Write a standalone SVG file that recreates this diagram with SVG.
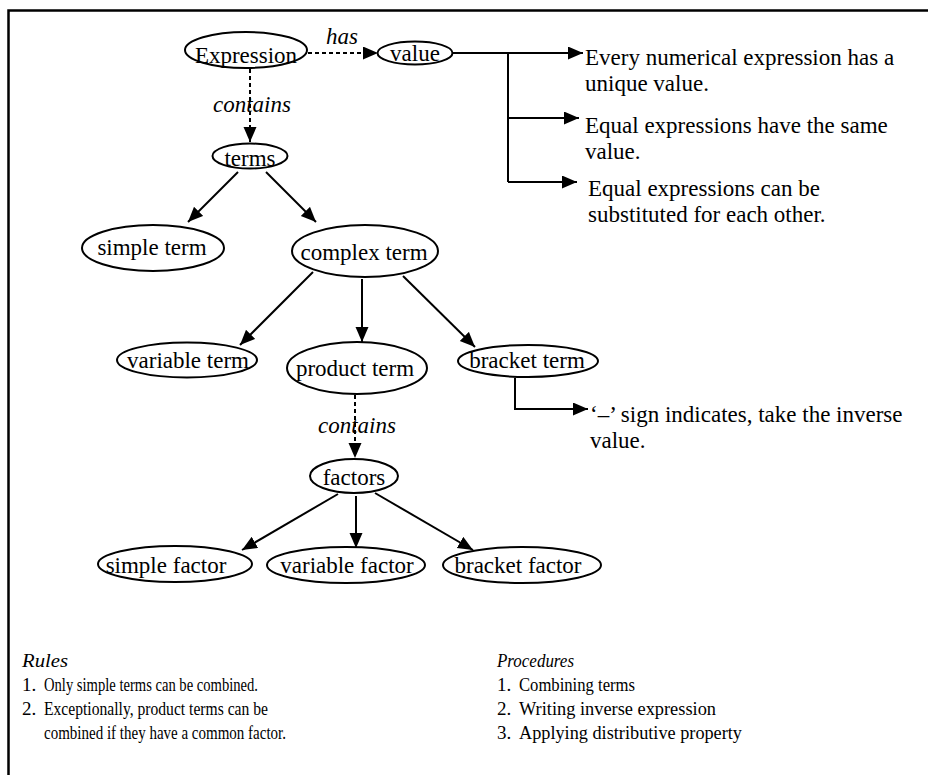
<svg xmlns="http://www.w3.org/2000/svg" width="928" height="775" viewBox="0 0 928 775">
<defs>
<marker id="ah" markerUnits="userSpaceOnUse" markerWidth="16" markerHeight="14" refX="15" refY="6.5" orient="auto">
<path d="M0,0 L15,6.5 L0,13 z" fill="#000"/>
</marker>
<style>
.n ellipse{fill:#fff;stroke:#000;stroke-width:2}
.t{font-family:"Liberation Serif","Times New Roman",serif;font-size:23px;fill:#000}
.n text{text-anchor:middle}
.i{font-style:italic}
.c line,.c path{stroke:#000;stroke-width:2;fill:none}
.c .d{stroke-dasharray:4 3}
.a{marker-end:url(#ah)}
.b{font-family:"Liberation Serif","Times New Roman",serif;font-size:19px;fill:#000}
</style>
</defs>
<rect x="8.5" y="10.5" width="940" height="800" fill="#fff" stroke="#000" stroke-width="2.5"/>

<g class="c" id="connectors">
<line class="d a" x1="308" y1="53" x2="378" y2="53"/>
<line class="d a" x1="250" y1="69" x2="250" y2="142"/>
<path class="a" d="M453,53 H583"/>
<path d="M508,53 V182"/>
<path class="a" d="M508,118 H579"/>
<path class="a" d="M508,182 H577"/>
<line class="a" x1="238" y1="172" x2="188" y2="222"/>
<line class="a" x1="266" y1="172" x2="316" y2="222"/>
<line class="a" x1="313" y1="272" x2="240" y2="345"/>
<line class="a" x1="362" y1="279" x2="362" y2="342"/>
<line class="a" x1="403" y1="276" x2="475" y2="347"/>
<path class="a" d="M515,378 V409 H588"/>
<line class="d a" x1="355" y1="395" x2="355" y2="458"/>
<line class="a" x1="338" y1="494" x2="242" y2="550"/>
<line class="a" x1="356" y1="496" x2="356" y2="548"/>
<line class="a" x1="375" y1="493" x2="473" y2="550"/>
<text class="t i" x="342" y="44" text-anchor="middle">has</text>
<text class="t i" x="252" y="112" text-anchor="middle">contains</text>
<text class="t i" x="357" y="433" text-anchor="middle">contains</text>
</g>

<g class="n" id="expression"><ellipse cx="246" cy="50" rx="61" ry="18"/><text class="t" x="246" y="63">Expression</text></g>
<g class="n" id="value"><ellipse cx="415" cy="53" rx="37.5" ry="11.5"/><text class="t" x="415" y="61">value</text></g>
<g class="n" id="terms"><ellipse cx="250" cy="156" rx="37.5" ry="12.5"/><text class="t" x="250" y="166">terms</text></g>
<g class="n" id="simple-term"><ellipse cx="153" cy="248" rx="71" ry="23"/><text class="t" x="152" y="255">simple term</text></g>
<g class="n" id="complex-term"><ellipse cx="365" cy="251" rx="73" ry="26"/><text class="t" x="364" y="260">complex term</text></g>
<g class="n" id="variable-term"><ellipse cx="187" cy="360" rx="70" ry="17.5"/><text class="t" x="188" y="368">variable term</text></g>
<g class="n" id="product-term"><ellipse cx="357" cy="368" rx="70" ry="26"/><text class="t" x="355" y="376">product term</text></g>
<g class="n" id="bracket-term"><ellipse cx="528" cy="361" rx="70" ry="16"/><text class="t" x="527" y="368">bracket term</text></g>
<g class="n" id="factors"><ellipse cx="354" cy="476" rx="44" ry="17"/><text class="t" x="354" y="485">factors</text></g>
<g class="n" id="simple-factor"><ellipse cx="175" cy="564" rx="77" ry="18"/><text class="t" x="166" y="573">simple factor</text></g>
<g class="n" id="variable-factor"><ellipse cx="346" cy="565" rx="79" ry="18"/><text class="t" x="347" y="573">variable factor</text></g>
<g class="n" id="bracket-factor"><ellipse cx="522" cy="565" rx="79" ry="18"/><text class="t" x="518" y="573">bracket factor</text></g>

<g id="notes">
<text class="t" x="585" y="65">Every numerical expression has a</text>
<text class="t" x="585" y="91">unique value.</text>
<text class="t" x="585" y="133">Equal expressions have the same</text>
<text class="t" x="585" y="159">value.</text>
<text class="t" x="588" y="196">Equal expressions can be</text>
<text class="t" x="588" y="222">substituted for each other.</text>
<text class="t" x="590" y="422">‘–’ sign indicates, take the inverse</text>
<text class="t" x="590" y="448">value.</text>
</g>

<g id="rules">
<text class="b i" x="22" y="667" textLength="46" lengthAdjust="spacingAndGlyphs">Rules</text>
<text class="b" x="22" y="691">1.</text><text class="b" x="44" y="691" textLength="214" lengthAdjust="spacingAndGlyphs">Only simple terms can be combined.</text>
<text class="b" x="22" y="715">2.</text><text class="b" x="44" y="715" textLength="224" lengthAdjust="spacingAndGlyphs">Exceptionally, product terms can be</text>
<text class="b" x="44" y="739" textLength="242" lengthAdjust="spacingAndGlyphs">combined if they have a common factor.</text>
</g>
<g id="procedures">
<text class="b i" x="497" y="667" textLength="77" lengthAdjust="spacingAndGlyphs">Procedures</text>
<text class="b" x="497" y="691">1.</text><text class="b" x="519" y="691" textLength="116" lengthAdjust="spacingAndGlyphs">Combining terms</text>
<text class="b" x="497" y="715">2.</text><text class="b" x="519" y="715" textLength="197" lengthAdjust="spacingAndGlyphs">Writing inverse expression</text>
<text class="b" x="497" y="739">3.</text><text class="b" x="519" y="739" textLength="223" lengthAdjust="spacingAndGlyphs">Applying distributive property</text>
</g>
</svg>
